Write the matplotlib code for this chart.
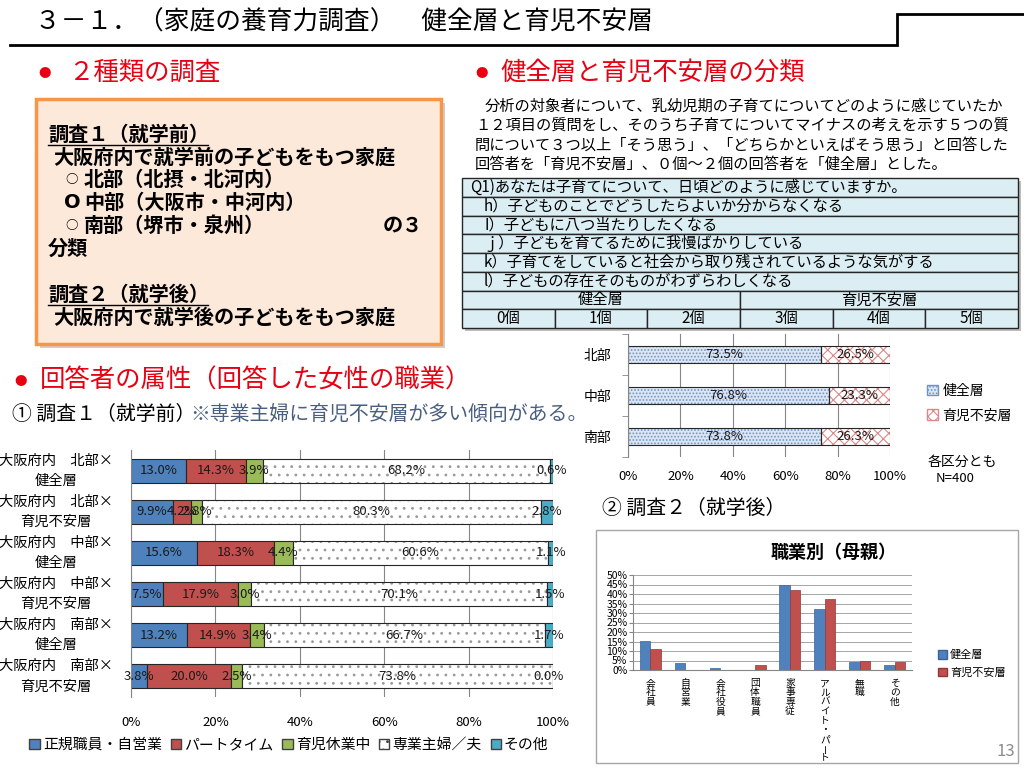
import matplotlib
matplotlib.use('Agg')
import matplotlib.pyplot as plt
from matplotlib.patches import Rectangle, Patch

plt.rcParams['font.family'] = ['Noto Sans CJK JP', 'DejaVu Sans']
plt.rcParams['hatch.linewidth'] = 0.8

W, H = 1024, 768

# ---- data ----
job_rows = ['大阪府内　北部×\n健全層', '大阪府内　北部×\n育児不安層',
            '大阪府内　中部×\n健全層', '大阪府内　中部×\n育児不安層',
            '大阪府内　南部×\n健全層', '大阪府内　南部×\n育児不安層']
job_names = ['正規職員・自営業', 'パートタイム', '育児休業中', '専業主婦／夫', 'その他']
job_regular = [13.0, 9.9, 15.6, 7.5, 13.2, 3.8]
job_part = [14.3, 4.2, 18.3, 17.9, 14.9, 20.0]
job_leave = [3.9, 2.8, 4.4, 3.0, 3.4, 2.5]
job_home = [68.2, 80.3, 60.6, 70.1, 66.7, 73.8]
job_other = [0.6, 2.8, 1.1, 1.5, 1.7, 0.0]

areas = ['北部', '中部', '南部']
healthy_share = [73.5, 76.8, 73.8]
anxious_share = [26.5, 23.3, 26.3]

occupations = ['会社員', '自営業', '会社役員', '団体職員', '家事専従',
               'アルバイト・パート', '無職', 'その他']
mother_healthy = [15.2, 3.6, 1.2, 0.0, 44.6, 32.0, 4.0, 2.4]
mother_anxious = [11.0, 0.0, 0.0, 2.8, 42.0, 37.2, 4.9, 4.2]

q_items = ['Q1)あなたは子育てについて、日頃どのように感じていますか。',
           'h）子どものことでどうしたらよいか分からなくなる',
           'I）子どもに八つ当たりしたくなる',
           'ｊ）子どもを育てるために我慢ばかりしている',
           'k）子育てをしていると社会から取り残されているような気がする',
           'l）子どもの存在そのものがわずらわしくなる']
groups = ['健全層', '育児不安層']
counts = ['0個', '1個', '2個', '3個', '4個', '5個']

intro = ['分析の対象者について、乳幼児期の子育てについてどのように感じていたか',
         '１２項目の質問をし、そのうち子育てについてマイナスの考えを示す５つの質',
         '問について３つ以上「そう思う」、「どちらかといえばそう思う」と回答した',
         '回答者を「育児不安層」、０個～２個の回答者を「健全層」とした。']

RED = '#e60012'
BLUE = '#4f81bd'
DRED = '#c0504d'
GREEN = '#9bbb59'
TEAL = '#4bacc6'

fig = plt.figure(figsize=(W / 100, H / 100), dpi=100)


def px_axes(x0, y0, x1, y1):
    return fig.add_axes([x0 / W, 1 - y1 / H, (x1 - x0) / W, (y1 - y0) / H])


bg = fig.add_axes([0, 0, 1, 1])
bg.set_xlim(0, W)
bg.set_ylim(H, 0)
bg.axis('off')

# header
bg.text(35, 23, '３－１．（家庭の養育力調査）　健全層と育児不安層', fontsize=18.5, va='center')
bg.plot([10, 897, 897, 1024], [45, 45, 14, 14], color='black', lw=2, solid_joinstyle='miter')

# headings
for bx, tx, y, s in [(45, 68, 73, '２種類の調査'), (482, 500, 73, '健全層と育児不安層の分類'),
                     (21, 40, 381, '回答者の属性（回答した女性の職業）')]:
    bg.text(bx, y, '●', color=RED, fontsize=9, ha='center', va='center')
    bg.text(tx, y, s, color=RED, fontsize=18.3, va='center')

bg.text(12, 414, '① 調査１（就学前）', fontsize=14.3, va='center')
bg.text(190, 414, '※専業主婦に育児不安層が多い傾向がある。', fontsize=14.3, va='center', color='#4a5f80')
bg.text(602, 508, '② 調査２（就学後）', fontsize=14.3, va='center')

# orange box
bg.add_patch(Rectangle((40, 103), 405, 245, fc='#cfcfcf', ec='none'))
bg.add_patch(Rectangle((36, 99), 405, 245, fc='#fde9d9', ec='#f79646', lw=2.5))
box_lines = [(48, 134, '調査１（就学前）'), (53, 157, '大阪府内で就学前の子どもをもつ家庭'),
             (84, 179, '北部（北摂・北河内）'), (84, 202, '中部（大阪市・中河内）'),
             (84, 225, '南部（堺市・泉州）'), (383, 225, 'の３'), (48, 248, '分類'),
             (48, 294, '調査２（就学後）'), (53, 317, '大阪府内で就学後の子どもをもつ家庭')]
for x, y, s in box_lines:
    bg.text(x, y, s, fontsize=14.5, weight='bold', va='center')
bg.text(72, 179, '○', fontsize=9, weight='bold', va='center', ha='center')
bg.text(72, 225, '○', fontsize=9, weight='bold', va='center', ha='center')
bg.text(72, 202, 'O', fontsize=14, weight='bold', va='center', ha='center', family='DejaVu Sans')
bg.plot([48, 208], [145, 145], color='black', lw=1)
bg.plot([48, 208], [305, 305], color='black', lw=1)

# intro paragraph
for i, s in enumerate(intro):
    bg.text(485 if i == 0 else 475, 106 + i * 19.5, s, fontsize=11, va='center')

# table
tx0, tx1, ty0, rh = 462, 1018, 178, 18.75
bg.add_patch(Rectangle((tx0 + 3, ty0 + 3), tx1 - tx0, rh * 8, fc='#bdbdbd', ec='none'))
for r, s in enumerate(q_items):
    bg.add_patch(Rectangle((tx0, ty0 + r * rh), tx1 - tx0, rh, fc='#dbeef4', ec='#262626', lw=1))
    bg.text(470 if r == 0 else 484, ty0 + (r + 0.5) * rh, s, fontsize=11, va='center')
gw = (tx1 - tx0) / len(groups)
for k, s in enumerate(groups):
    bg.add_patch(Rectangle((tx0 + k * gw, ty0 + 6 * rh), gw, rh, fc='#dbeef4', ec='#262626', lw=1))
    bg.text(tx0 + (k + 0.5) * gw, ty0 + 6.5 * rh, s, fontsize=11, va='center', ha='center')
cw = (tx1 - tx0) / len(counts)
for k, s in enumerate(counts):
    bg.add_patch(Rectangle((tx0 + k * cw, ty0 + 7 * rh), cw, rh, fc='#dbeef4', ec='#262626', lw=1))
    bg.text(tx0 + (k + 0.5) * cw, ty0 + 7.5 * rh, s, fontsize=11, va='center', ha='center')

# ---- area split chart ----
ax1 = px_axes(628, 334, 890, 457)
y1 = range(len(areas))
b1 = ax1.barh(y1, healthy_share, height=0.42, color='#dce6f2', edgecolor='#6f93c8',
              hatch='.....', lw=0)
b2 = ax1.barh(y1, anxious_share, left=healthy_share, height=0.42, color='white',
              edgecolor='#d98a88', hatch='xxx', lw=0)
ax1.barh(y1, healthy_share, height=0.42, fill=False, edgecolor='#262626', lw=0.8)
ax1.barh(y1, anxious_share, left=healthy_share, height=0.42, fill=False, edgecolor='#262626', lw=0.8)
for c, vals in [(b1, healthy_share), (b2, anxious_share)]:
    ax1.bar_label(c, labels=[f'{v:.1f}%' for v in vals], label_type='center',
                  fontsize=9.5, color='#1a1a1a')
ax1.set_xlim(0, 100)
ax1.set_ylim(2.5, -0.5)
ax1.set_xticks(range(0, 101, 20), [f'{v}%' for v in range(0, 101, 20)])
ax1.set_yticks(list(y1), areas)
ax1.set_yticks([-0.5, 0.5, 1.5, 2.5], minor=True)
ax1.tick_params(axis='y', which='major', length=0, labelsize=10, pad=12)
ax1.tick_params(axis='y', which='minor', length=4, color='#868686')
ax1.tick_params(axis='x', length=0, labelsize=9.5, pad=9)
ax1.grid(axis='x', color='#868686', lw=0.8)
ax1.set_axisbelow(True)
for sp in ['top', 'right', 'bottom']:
    ax1.spines[sp].set_visible(False)
ax1.spines['left'].set_color('#868686')

h1 = [Patch(fc='#dce6f2', ec='#6f93c8', hatch='.....'), Patch(fc='white', ec='#d98a88', hatch='xxx')]
fig.legend(h1, groups, loc='center left', bbox_to_anchor=(927 / W, 1 - 403 / H),
           bbox_transform=fig.transFigure, frameon=False, fontsize=10, handlelength=0.8,
           handleheight=0.8, handletextpad=0.3, labelspacing=0.75, borderaxespad=0,
           borderpad=0)
bg.text(928, 462, '各区分とも', fontsize=10, va='center')
bg.text(936, 479, 'N=400', fontsize=9.5, va='center')

# ---- occupation stacked chart ----
ax2 = px_axes(131, 450, 553, 697)
series = [job_regular, job_part, job_leave, job_home, job_other]
colors = [BLUE, DRED, GREEN, 'white', TEAL]
left = [0.0] * len(job_rows)
yy = range(len(job_rows))
for vals, col in zip(series, colors):
    if col == 'white':
        c = ax2.barh(yy, vals, left=left, height=0.58, color='white', edgecolor='#9a9a9a',
                     hatch='..', lw=0)
        ax2.barh(yy, vals, left=left, height=0.58, fill=False, edgecolor='#262626', lw=0.8)
    else:
        c = ax2.barh(yy, vals, left=left, height=0.58, color=col, edgecolor='#262626', lw=0.8)
    ax2.bar_label(c, labels=[f'{v:.1f}%' if v > 0 else '' for v in vals], label_type='center',
                  fontsize=9.5, color='#1a1a1a')
    # zero-width segments still get their label, as in the source chart
    for i, v in enumerate(vals):
        if v == 0:
            ax2.text(min(left[i], 100) - 1, i, f'{v:.1f}%', fontsize=9.5, color='#1a1a1a',
                     ha='center', va='center')
    left = [a + b for a, b in zip(left, vals)]
ax2.set_xlim(0, 100)
ax2.set_ylim(5.5, -0.5)
ax2.set_xticks(range(0, 101, 20), [f'{v}%' for v in range(0, 101, 20)])
ax2.set_yticks(list(yy), [''] * len(job_rows))
for i, lbl in enumerate(job_rows):
    for k, line in enumerate(lbl.split('\n')):
        ax2.annotate(line, xy=(0, i), xycoords=('axes fraction', 'data'),
                     xytext=(-54, 7.2 - 14.4 * k), textcoords='offset points',
                     ha='center', va='center', fontsize=10.3)
ax2.tick_params(axis='y', length=0)
ax2.tick_params(axis='x', length=0, labelsize=9.5, pad=14)
ax2.grid(axis='x', color='#868686', lw=0.8)
ax2.set_axisbelow(True)
for sp in ['top', 'right', 'bottom']:
    ax2.spines[sp].set_visible(False)
ax2.spines['left'].set_color('#868686')

h2 = [Patch(fc=col, ec='#404040', hatch='..' if col == 'white' else None) for col in colors]
fig.legend(h2, job_names, loc='center', bbox_to_anchor=(289 / W, 1 - 745 / H),
           bbox_transform=fig.transFigure, frameon=False, fontsize=10.7, ncol=5,
           handlelength=0.7, handleheight=0.7, handletextpad=0.2, columnspacing=0.6,
           borderaxespad=0, borderpad=0)

# ---- mother occupation chart ----
bg.add_patch(Rectangle((596, 530), 422, 233, fc='white', ec='#a6a6a6', lw=1))
bg.text(834, 552, '職業別（母親）', fontsize=13, weight='bold', ha='center', va='center')
ax3 = px_axes(633, 575, 912, 670)
xs = range(len(occupations))
ax3.bar([x - 0.15 for x in xs], mother_healthy, width=0.3, color=BLUE, edgecolor='#3a6499', lw=0.5)
ax3.bar([x + 0.15 for x in xs], mother_anxious, width=0.3, color=DRED, edgecolor='#943634', lw=0.5)
ax3.set_xlim(-0.5, len(occupations) - 0.5)
ax3.set_ylim(0, 50)
ax3.set_yticks(range(0, 51, 5), [f'{v}%' for v in range(0, 51, 5)])
ax3.set_xticks([])
ax3.tick_params(axis='y', labelsize=7.5, length=3, color='#868686', pad=1)
ax3.grid(axis='y', color='#a6a6a6', lw=0.7)
ax3.set_axisbelow(True)
for sp in ['top', 'right']:
    ax3.spines[sp].set_visible(False)
ax3.spines['left'].set_color('#868686')
ax3.spines['bottom'].set_color('#868686')
for i, name in enumerate(occupations):
    for k, ch in enumerate(name):
        ax3.annotate(ch, xy=(i, 0), xycoords=('data', 'axes fraction'),
                     xytext=(0, -9.5 - k * 6.7), textcoords='offset points',
                     ha='center', va='center', fontsize=7,
                     rotation=90 if ch == 'ー' else 0)

h3 = [Patch(fc=BLUE, ec='#3a6499'), Patch(fc=DRED, ec='#943634')]
fig.legend(h3, groups, loc='center left', bbox_to_anchor=(938 / W, 1 - 664 / H),
           bbox_transform=fig.transFigure, frameon=False, fontsize=8, handlelength=0.8,
           handleheight=0.8, handletextpad=0.3, labelspacing=0.7, borderaxespad=0,
           borderpad=0)
bg.text(1015, 751, '13', fontsize=12, color='#8c8c8c', ha='right', va='center')

fig.savefig('out.png', dpi=100)
